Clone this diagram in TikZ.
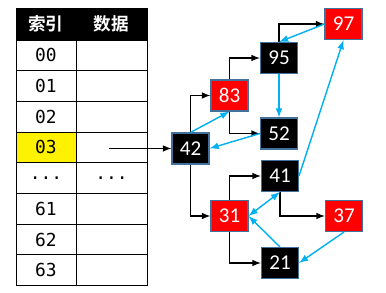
\documentclass[tikz,border=0pt]{standalone}
\usepackage{fontspec}
\setmainfont{Carlito}
\newfontfamily\cjk{Noto Sans CJK SC Bold}
\newfontfamily\mono{DejaVu Sans Mono}
\usepackage{xcolor}
\usepackage{tikz}
\usetikzlibrary{calc, positioning}
\definecolor{xanh}{RGB}{0,176,240}
\definecolor{vien}{RGB}{65,113,156}
\newcommand\chamba{...}
\tikzset{
    o/.style={draw=vien, line width=0.6pt, minimum width=0.74cm, minimum height=0.62cm,
        inner sep=0pt, text=white, font=\fontsize{12}{14}\selectfont},
    den/.style={o, fill=black},
    do/.style={o, fill=red},
    cell/.style={draw, line width=0.5pt, minimum height=0.614cm, inner sep=0pt,
        font=\mono\fontsize{10.2}{12}\selectfont},
    tieude/.style={cell, fill=black, text=white, minimum height=0.64cm,
        font=\cjk\fontsize{10}{12}\selectfont},
    muiden/.style={->, line width=0.7pt},
    muixanh/.style={->, draw=xanh, fill=xanh, line width=0.8pt}
}

\begin{document}
\begin{tikzpicture}[>=latex, x=0.02cm, y=-0.02cm]
    \useasboundingbox (0,0) rectangle (386,293);
    % Bảng băm
    \node[tieude, minimum width=1.2cm] (h1) at (46,24) {索引};
    \node[tieude, minimum width=1.42cm] (h2) at (111.5,24) {数据};
    \foreach \t/\mau [count=\i from 0] in {00/white,01/white,02/white,03/yellow,\chamba/white,61/white,62/white,63/white} {
        \node[cell, minimum width=1.2cm, fill=\mau] (k\i) at (46,{55.35+30.7*\i}) {\t};
        \node[cell, minimum width=1.42cm] (d\i) at (111.5,{55.35+30.7*\i}) {};
    }
    \node[font=\mono\fontsize{10.2}{12}\selectfont] (dd) at (d4) {...};

    % Các nút
    \node[den] (n42) at (190.5,148.5) {42};
    \node[do]  (n83) at (229.5,95.5)  {83};
    \node[den] (n95) at (279,58)      {95};
    \node[den] (n52) at (279,133.5)   {52};
    \node[do]  (n97) at (343.5,24)    {97};
    \node[den] (n41) at (280,176)     {41};
    \node[do]  (n31) at (229.5,216)   {31};
    \node[do]  (n37) at (344,216)     {37};
    \node[den] (n21) at (280,263)     {21};

    % Mũi tên từ bảng
    \coordinate (dau) at (109,148.5);
    \draw[muiden] (dau) -- (n42.west);

    % Con trái, con phải
    \draw[muiden] (n42.north) |- (n83.west);
    \draw[muiden] (n83.north) |- (n95.west);
    \draw[muiden] (n83.south) |- (n52.west);
    \draw[muiden] (n95.north) |- (n97.west);
    \draw[muiden] (n42.south) |- (n31.west);
    \draw[muiden] (n31.north) |- (n41.west);
    \draw[muiden] (n31.south) |- (n21.west);
    \draw[muiden] (n41.south) |- (n37.west);

    % Liên kết kép
    \draw[muixanh] (n42.north) -- (n83.south);
    \draw[muixanh] (n52.west) -- (n42.east);
    \draw[muixanh] (n95.south) -- (n52.north);
    \draw[muixanh] (n97.west) -- (n95.north);
    \draw[muixanh] (n41.east) -- (n97.south);
    \draw[muixanh, <->] (n31.east) -- (n41.south);
    \draw[muixanh] (n21.north) -- (n31.east);
    \draw[muixanh] (n37.south) -- (n21.east);
\end{tikzpicture}
\end{document}
